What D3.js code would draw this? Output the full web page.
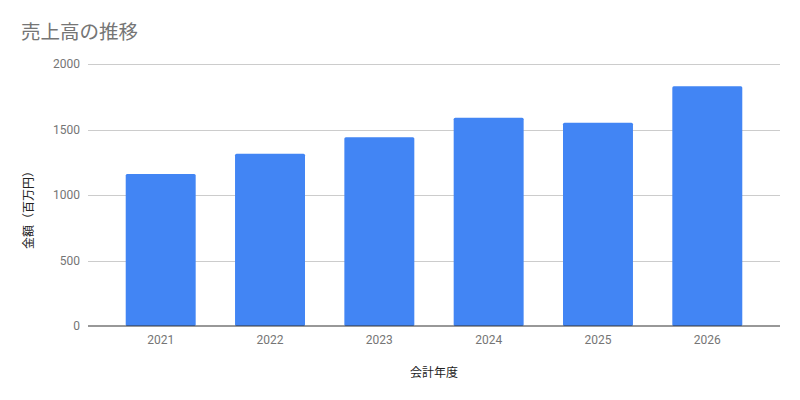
<!DOCTYPE html>
<html>
<head>
<meta charset="utf-8">
<script src="https://cdn.jsdelivr.net/npm/d3@7"></script>
<style>
  body { margin: 0; background: #fff; }
  svg { display: block; font-family: Roboto, "Noto Sans CJK JP", sans-serif; }
</style>
</head>
<body>
<div id="chart"></div>
<script>
// data
const years = ["2021", "2022", "2023", "2024", "2025", "2026"];
const sales = [1160, 1315, 1440, 1590, 1552, 1830];
const yTicks = [0, 500, 1000, 1500, 2000];

const width = 800, height = 400;
const margin = { top: 64, right: 20, bottom: 74, left: 88 };

const svg = d3.select("#chart").append("svg")
    .attr("width", width)
    .attr("height", height);

const x = d3.scaleBand()
    .domain(years)
    .range([margin.left, width - margin.right])
    .paddingInner(0.36)
    .paddingOuter(0.345);

const y = d3.scaleLinear()
    .domain([0, 2000])
    .range([height - margin.bottom, margin.top]);

// title
svg.append("text")
    .attr("x", 21)
    .attr("y", 39)
    .attr("fill", "#757575")
    .style("font-family", "'Noto Sans CJK JP', sans-serif")
    .style("font-size", "19.5px")
    .text("売上高の推移");

// gridlines
svg.append("g")
    .selectAll("line")
    .data(yTicks.filter(d => d > 0))
    .join("line")
    .attr("x1", margin.left)
    .attr("x2", width - margin.right)
    .attr("y1", d => Math.round(y(d)) + 0.5)
    .attr("y2", d => Math.round(y(d)) + 0.5)
    .attr("stroke", "#cccccc")
    .attr("stroke-width", 1);

// y tick labels
svg.append("g")
    .selectAll("text")
    .data(yTicks)
    .join("text")
    .attr("x", margin.left - 8)
    .attr("y", d => y(d))
    .attr("dy", "0.35em")
    .attr("text-anchor", "end")
    .attr("fill", "#757575")
    .style("font-size", "12px")
    .text(d => d);

// bars
svg.append("g")
    .selectAll("rect")
    .data(years)
    .join("rect")
    .attr("x", d => x(d))
    .attr("y", (d, i) => y(sales[i]))
    .attr("width", x.bandwidth())
    .attr("height", (d, i) => y(0) - y(sales[i]))
    .attr("rx", 1.5)
    .attr("fill", "#4285f4");

// baseline
svg.append("line")
    .attr("x1", margin.left)
    .attr("x2", width - margin.right)
    .attr("y1", y(0))
    .attr("y2", y(0))
    .attr("stroke", "#333333")
    .attr("stroke-width", 1.2);

// x labels
svg.append("g")
    .selectAll("text")
    .data(years)
    .join("text")
    .attr("x", d => x(d) + x.bandwidth() / 2)
    .attr("y", y(0) + 18)
    .attr("text-anchor", "middle")
    .attr("fill", "#757575")
    .style("font-size", "12px")
    .text(d => d);

// axis titles
svg.append("text")
    .attr("x", (margin.left + width - margin.right) / 2)
    .attr("y", 377)
    .attr("text-anchor", "middle")
    .attr("fill", "#222")
    .style("font-family", "'Noto Sans CJK JP', sans-serif")
    .style("font-size", "12px")
    .text("会計年度");

svg.append("text")
    .attr("transform", "translate(33,207) rotate(-90)")
    .attr("text-anchor", "middle")
    .attr("fill", "#222")
    .style("font-family", "'Noto Sans CJK JP', sans-serif")
    .style("font-size", "12px")
    .text("金額（百万円）");
</script>
</body>
</html>
